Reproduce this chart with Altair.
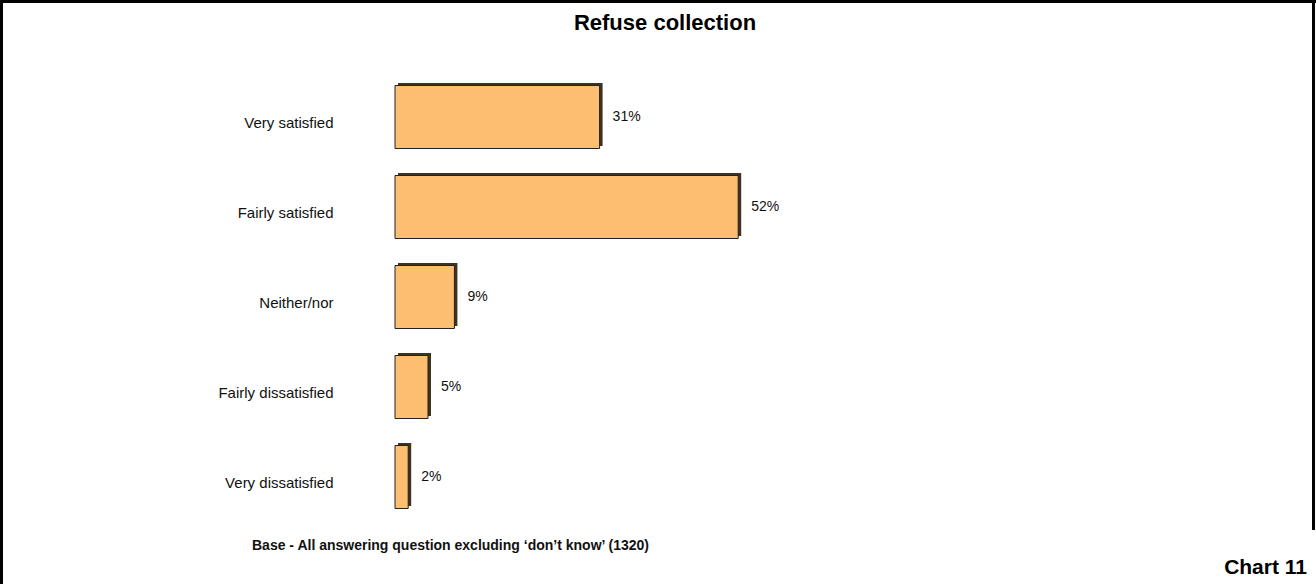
import altair as alt
import pandas as pd

categories = ["Very satisfied", "Fairly satisfied", "Neither/nor", "Fairly dissatisfied", "Very dissatisfied"]
values = [31, 52, 9, 5, 2]
value_labels = ["31%", "52%", "9%", "5%", "2%"]

title_text = "Refuse collection"
footer_text = "Base - All answering question excluding \u2018don\u2019t know\u2019 (1320)"
chart_tag = "Chart 11"

FONT = "Liberation Sans"

df = pd.DataFrame({"category": categories, "value": values, "label": value_labels})
one = pd.DataFrame({"k": [0]})

x_scale = alt.Scale(domain=[0, 100], nice=False, zero=True)
y_scale = alt.Scale(paddingInner=0.3, paddingOuter=0.15)

base = alt.Chart(df)

shadow = base.mark_bar(
    color="#3e3220", xOffset=3, x2Offset=3, yOffset=-2.5, y2Offset=-2.5
).encode(
    x=alt.X("value:Q", scale=x_scale, axis=None),
    y=alt.Y("category:N", sort=categories, scale=y_scale,
            axis=alt.Axis(title=None, domain=False, ticks=False, labelFont=FONT,
                          labelFontSize=15, labelColor="#111111", labelPadding=62,
                          labelOffset=6, labelLimit=300)),
)

bars = base.mark_bar(
    color="#FDBF6F", stroke="#222222", strokeWidth=1
).encode(
    x=alt.X("value:Q", scale=x_scale),
    y=alt.Y("category:N", sort=categories, scale=y_scale),
)

texts = base.mark_text(
    align="left", baseline="middle", dx=13, font=FONT, fontSize=14, color="#111111"
).encode(
    x=alt.X("value:Q", scale=x_scale),
    y=alt.Y("category:N", sort=categories, scale=y_scale),
    text="label:N",
)

o = alt.Chart(one)
title = o.mark_text(font=FONT, fontSize=22, fontWeight="bold", align="center",
                    baseline="middle", color="#000000").encode(
    x=alt.value(270), y=alt.value(-49), text=alt.value(title_text))
footer = o.mark_text(font=FONT, fontSize=14, fontWeight="bold", align="left",
                     baseline="middle", color="#111111").encode(
    x=alt.value(-143), y=alt.value(474), text=alt.value(footer_text))
tag = o.mark_text(font=FONT, fontSize=21, fontWeight="bold", align="right",
                  baseline="middle", color="#000000").encode(
    x=alt.value(912), y=alt.value(496), text=alt.value(chart_tag))

left_border = o.mark_rule(color="#000000", strokeWidth=3).encode(
    x=alt.value(-393.5), y=alt.value(-72), y2=alt.value(520))
top_border = o.mark_rule(color="#000000", strokeWidth=3).encode(
    x=alt.value(-395), x2=alt.value(921), y=alt.value(-70.5))
right_border = o.mark_rule(color="#000000", strokeWidth=3).encode(
    x=alt.value(918.5), y=alt.value(-72), y2=alt.value(458))

chart = alt.layer(
    shadow, bars, texts, title, footer, tag, left_border, top_border, right_border
).properties(
    width=660, height=450,
    autosize=alt.AutoSizeParams(type="none"),
    padding={"left": 395, "top": 72, "right": 261, "bottom": 62},
    background="white",
).configure_view(stroke=None)

chart.save("out.html", embed_options={"renderer": "svg", "actions": False})
